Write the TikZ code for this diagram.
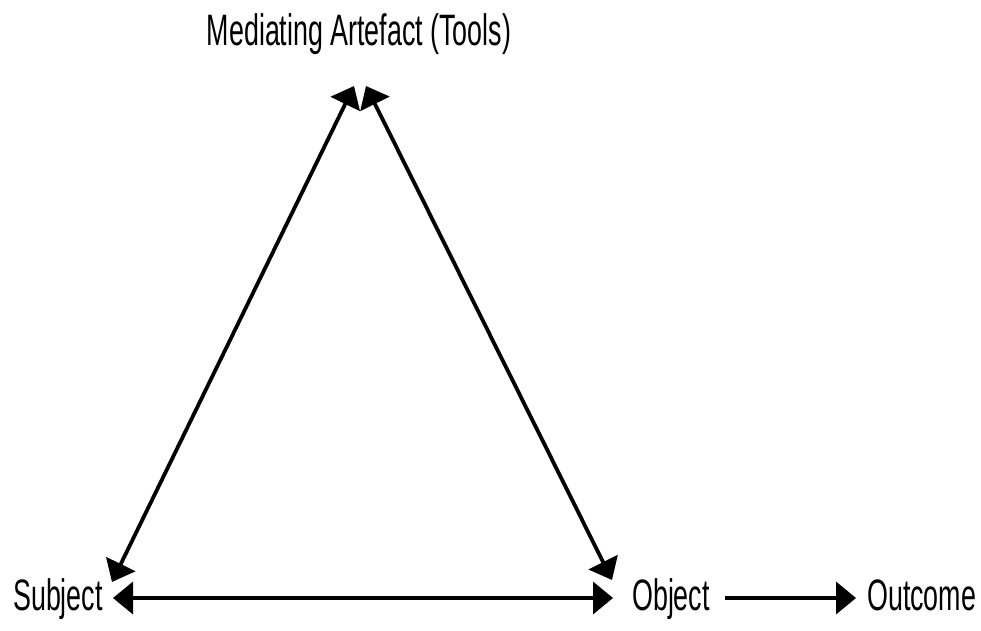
\documentclass[tikz,border=0pt]{standalone}
\usepackage{fontspec}
\setmainfont[FakeStretch=0.61]{Liberation Sans}
\usetikzlibrary{arrows.meta}

\tikzset{
  label/.style={inner sep=0pt, font=\fontsize{44}{48}\selectfont},
  link/.style={line width=3.8pt, -{Triangle[length=20pt,width=32pt]}},
  twoway/.style={line width=3.8pt, {Triangle[length=20pt,width=32pt]}-{Triangle[length=20pt,width=32pt]}},
}

\begin{document}
\begin{tikzpicture}[x=1pt,y=-1pt]
  \useasboundingbox (0,0) rectangle (981,630);

  \node[label, anchor=base] (tools) at (359,45) {Mediating Artefact (Tools)};
  \node[label, anchor=base west] (subject) at (13,610) {Subject};
  \node[label, anchor=base west] (object) at (632,610) {Object};
  \node[label, anchor=base west] (outcome) at (867,610) {Outcome};

  \coordinate (apexL) at (354,86);
  \coordinate (apexR) at (366,86);
  \coordinate (subjT) at (112,582);
  \coordinate (objT) at (612,580);
  \coordinate (subjE) at (113,598);
  \coordinate (objW) at (613,598);
  \coordinate (outW) at (856,598);
  \coordinate (objE) at (725,598);

  \draw[twoway] (apexL) -- (subjT);
  \draw[twoway] (apexR) -- (objT);
  \draw[twoway] (subjE) -- (objW);
  \draw[link] (objE) -- (outW);
\end{tikzpicture}
\end{document}
